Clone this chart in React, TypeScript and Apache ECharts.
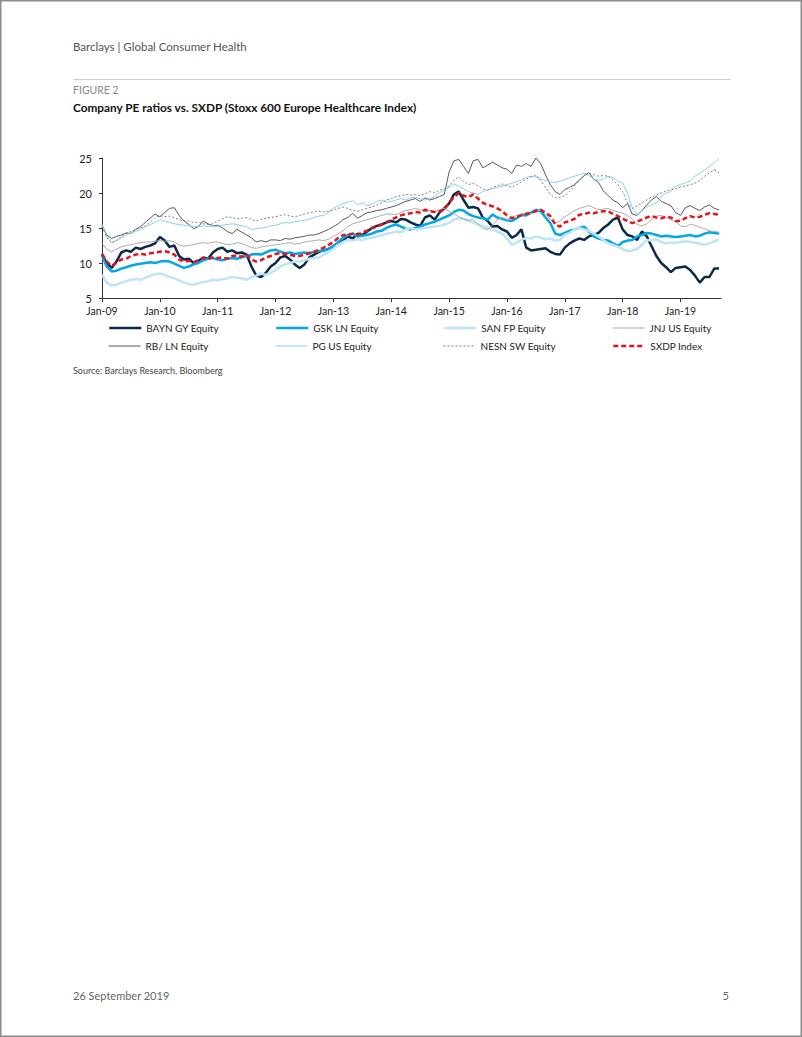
import React, { useEffect, useRef } from "react";
import * as echarts from "echarts";

const START_YEAR = 2009;
const YEAR_TICKS = [2009, 2010, 2011, 2012, 2013, 2014, 2015, 2016, 2017, 2018, 2019];
const Y_TICKS = [5, 10, 15, 20, 25];

const SERIES_NAMES = [
  "BAYN GY Equity",
  "GSK LN Equity",
  "SAN FP Equity",
  "JNJ US Equity",
  "RB/ LN Equity",
  "PG US Equity",
  "NESN SW Equity",
  "SXDP Index",
];

// Monthly PE values, Jan-09 .. Sep-19
const BAYN = [
  11.2, 10.0, 9.3, 10.2, 11.5, 11.8, 11.6, 12.2, 12.0, 12.3, 12.5, 12.8,
  13.7, 13.2, 12.3, 12.5, 11.0, 10.5, 10.6, 10.0, 10.3, 10.8, 10.6, 11.5,
  12.0, 12.2, 11.6, 11.8, 11.4, 11.5, 11.2, 9.5, 8.2, 8.0, 8.6, 9.5,
  10.0, 10.8, 11.0, 10.5, 9.8, 9.3, 9.8, 10.8, 11.2, 11.6, 11.8, 12.0,
  12.4, 12.8, 13.2, 13.8, 13.5, 14.2, 14.0, 14.5, 15.0, 15.3, 15.5, 15.8,
  16.0, 15.8, 16.3, 16.2, 15.8, 15.5, 15.3, 16.5, 16.8, 16.2, 17.2, 17.8,
  18.5, 19.8, 20.2, 19.0, 17.9, 18.0, 17.8, 16.5, 16.0, 15.2, 15.3, 14.8,
  14.5, 13.6, 14.0, 14.8, 12.2, 11.8, 11.9, 12.0, 12.1, 11.6, 11.3, 11.2,
  12.2, 12.8, 13.2, 13.5, 13.3, 13.8, 14.0, 14.3, 15.0, 15.5, 16.2, 16.5,
  14.8, 14.0, 13.8, 13.3, 14.5, 13.8, 12.4, 11.0, 10.0, 9.4, 8.7, 9.3,
  9.4, 9.5, 9.0, 8.2, 7.2, 8.0, 8.0, 9.2, 9.2,
];
const GSK = [
  11.0, 9.5, 8.8, 8.9, 9.2, 9.4, 9.6, 9.8, 9.9, 10.0, 10.1, 10.0,
  10.2, 10.3, 10.2, 9.9, 9.6, 9.3, 9.5, 9.8, 10.0, 10.4, 10.6, 10.7,
  10.5, 10.4, 10.6, 10.7, 10.6, 10.8, 11.0, 11.2, 11.3, 11.2, 11.5, 11.8,
  11.9, 11.6, 11.4, 11.5, 11.3, 11.4, 11.5, 11.4, 11.6, 11.7, 11.8, 12.0,
  12.4, 13.0, 13.6, 14.0, 14.2, 13.8, 13.9, 14.0, 14.2, 14.5, 14.6, 15.0,
  15.3, 15.5, 15.2, 14.9, 14.8, 15.0, 15.2, 15.5, 15.7, 15.9, 16.2, 16.5,
  16.8, 17.3, 17.6, 17.5, 17.0, 16.7, 16.5, 16.4, 16.2, 16.9, 16.5, 16.3,
  16.1, 16.0, 16.4, 16.9, 16.8, 17.2, 17.6, 17.4, 16.5, 15.7, 14.2, 14.0,
  14.3, 14.6, 14.8, 15.0, 15.2, 14.5, 13.8, 13.5, 13.3, 13.2, 12.8, 12.4,
  13.0, 13.2, 13.3, 13.8, 14.0, 14.3, 14.2, 14.0, 13.8, 13.9, 13.8, 13.7,
  13.8, 13.9, 14.0, 13.8, 13.9, 14.2, 14.4, 14.3, 14.2,
];
const SAN = [
  8.3, 7.2, 6.8, 6.9, 7.2, 7.4, 7.6, 7.7, 7.6, 7.9, 8.2, 8.4,
  8.5, 8.3, 8.0, 7.8, 7.5, 7.2, 7.0, 6.9, 7.1, 7.3, 7.4, 7.6,
  7.5, 7.7, 7.8, 8.0, 7.9, 7.8, 7.6, 8.0, 8.2, 8.5, 8.3, 8.6,
  9.0, 9.5, 9.8, 10.0, 10.2, 10.2, 10.4, 10.6, 10.7, 10.8, 11.2, 11.6,
  12.0, 12.6, 13.0, 13.3, 13.2, 13.4, 13.3, 13.5, 13.6, 13.8, 14.0, 14.2,
  14.3, 14.5, 14.4, 14.8, 15.0, 14.8, 14.9, 15.0, 15.1, 15.2, 15.3, 15.5,
  15.7, 16.2, 16.4, 16.3, 16.0, 15.8, 15.5, 15.3, 15.0, 14.8, 14.5, 14.2,
  13.5, 12.6, 12.9, 13.3, 13.6, 13.5, 13.8, 13.6, 13.4, 13.5, 13.2, 13.3,
  14.0, 14.3, 14.8, 15.0, 14.8, 14.6, 14.2, 13.8, 13.3, 12.8, 12.6, 12.3,
  12.0, 11.7, 11.8, 12.0, 12.6, 13.3, 13.2, 13.4, 13.0, 12.8, 12.9, 12.9,
  13.0, 13.1, 13.0, 12.9, 12.8, 12.6, 12.8, 13.1, 13.3,
];
const JNJ = [
  12.8, 12.0, 11.6, 12.0, 12.3, 12.5, 12.6, 12.8, 12.9, 13.0, 13.0, 13.1,
  13.2, 13.1, 13.2, 13.0, 12.6, 12.4, 12.5, 12.6, 12.8, 12.9, 12.8, 13.0,
  13.0, 12.8, 12.6, 12.7, 12.9, 12.8, 12.5, 12.2, 12.1, 12.3, 12.4, 12.5,
  12.6, 12.7, 12.8, 12.9, 12.7, 12.8, 13.0, 13.1, 13.2, 13.3, 13.2, 13.4,
  13.8, 14.2, 14.6, 15.2, 15.6, 15.8, 16.0, 16.2, 16.4, 16.6, 16.8, 17.0,
  17.0, 16.9, 17.2, 17.5, 17.6, 17.8, 17.6, 17.4, 17.5, 17.3, 17.6, 17.8,
  17.4, 17.0, 16.6, 16.3, 16.1, 16.2, 15.6, 14.9, 14.8, 15.4, 16.2, 16.5,
  16.2, 16.5, 16.8, 17.0, 17.2, 17.0, 17.4, 17.6, 17.0, 16.2, 15.7, 16.0,
  16.6, 17.0, 17.5, 17.8, 18.0, 18.2, 17.9, 17.6, 17.7, 17.8, 17.5, 17.3,
  17.1, 16.8, 16.3, 15.5, 15.3, 15.6, 16.2, 16.7, 16.8, 16.5, 16.2, 15.9,
  15.3, 15.2, 15.5, 15.4, 15.1, 14.9, 14.6, 14.5, 14.4,
];
const RB = [
  15.4, 14.0, 13.5, 13.8, 14.0, 14.3, 14.2, 14.8, 15.2, 15.8, 16.4, 17.0,
  16.6, 17.2, 17.8, 17.9, 16.8, 16.0, 15.5, 14.9, 15.2, 16.0, 15.6, 15.3,
  15.4, 15.0, 14.5, 14.2, 14.8, 14.4, 14.0, 13.6, 13.0, 13.2, 13.0, 13.3,
  13.3, 13.2, 13.5, 13.4, 13.6, 13.7, 13.8, 14.0, 14.0, 14.2, 14.5, 14.8,
  15.2, 15.6, 16.2, 16.5, 17.1, 16.4, 16.8, 17.2, 17.3, 17.5, 17.6, 17.8,
  18.0, 18.2, 18.5, 18.8, 19.0, 19.2, 18.8, 19.3, 19.0, 19.2, 19.5, 19.8,
  23.0, 24.6, 24.8, 23.8, 22.8, 24.6, 24.8, 23.6, 24.0, 24.4, 24.0, 23.6,
  23.4, 22.8, 24.0, 23.8, 24.2, 23.8, 25.0, 24.2, 22.6, 21.2, 20.2, 19.8,
  20.5, 20.8, 21.2, 21.8, 22.5, 22.9, 22.0, 21.5, 20.3, 19.6, 19.0, 18.6,
  17.9, 18.5, 17.0, 16.8, 17.5, 18.3, 19.0, 19.5, 18.8, 18.5, 18.2, 17.2,
  16.8, 17.9, 18.2, 17.8, 17.5, 18.0, 18.3, 17.8, 17.6,
];
const PG = [
  15.5, 13.8, 12.9, 13.2, 13.6, 14.0, 14.3, 14.5, 14.8, 15.2, 15.5, 15.8,
  16.2, 16.0, 15.8, 15.6, 15.5, 15.4, 15.3, 15.2, 15.2, 15.3, 15.2, 15.3,
  15.2, 15.4, 15.5, 15.6, 15.5, 15.3, 15.2, 14.8, 14.9, 15.0, 15.1, 15.3,
  15.4, 15.6, 15.8, 15.7, 15.9, 16.0, 16.1, 16.3, 16.5, 16.7, 16.8, 17.2,
  17.8, 18.2, 18.5, 18.7, 18.9, 18.3, 18.6, 18.2, 18.4, 18.8, 19.0, 18.7,
  18.8, 19.0, 19.2, 19.0, 19.3, 19.4, 19.2, 19.0, 19.2, 19.5, 20.0, 20.5,
  20.8, 21.3, 21.0, 20.6, 20.2, 20.0, 19.8, 20.2, 20.4, 20.6, 20.8, 21.0,
  21.2, 21.4, 21.6, 21.9, 22.2, 22.4, 22.3, 22.0, 21.8, 21.6, 21.5, 21.7,
  21.9, 22.2, 22.4, 22.6, 22.8, 22.5, 22.0, 21.8, 22.0, 22.4, 22.2, 21.7,
  21.4, 20.0, 17.9, 16.9, 17.5, 18.0, 18.3, 18.6, 19.5, 20.0, 20.2, 21.0,
  21.2, 21.5, 21.7, 22.4, 22.8, 23.3, 23.8, 24.3, 24.9,
];
const NESN = [
  15.2, 13.6, 12.9, 13.2, 13.8, 14.2, 14.5, 14.8, 15.0, 15.3, 15.8, 16.5,
  16.8, 16.6, 16.7, 16.5, 16.2, 16.0, 16.0, 15.8, 15.8, 15.6, 15.5, 15.6,
  16.0, 16.3, 16.6, 16.5, 16.3, 16.4, 16.5, 16.2, 16.0, 16.2, 16.4, 16.5,
  16.6, 16.8, 16.9, 16.7, 16.6, 16.8, 17.0, 17.2, 17.3, 17.4, 17.3, 17.4,
  17.6, 17.8, 18.0, 17.8, 17.5, 17.4, 17.6, 17.8, 18.0, 18.3, 18.6, 19.0,
  19.2, 19.5, 19.6, 19.8, 19.7, 19.8, 19.6, 19.9, 20.2, 20.0, 20.4, 20.6,
  21.0, 21.8, 22.3, 21.7, 21.2, 21.4, 21.0, 20.6, 20.4, 20.8, 21.0, 21.3,
  21.0, 20.8, 21.2, 21.6, 22.0, 22.3, 22.6, 21.8, 20.8, 19.8, 19.3, 19.4,
  19.6, 20.2, 21.0, 21.8, 22.5, 22.8, 22.6, 22.4, 22.5, 22.4, 21.8, 21.2,
  20.2, 18.6, 17.8, 18.2, 18.6, 19.0, 19.4, 19.7, 20.0, 20.3, 20.5, 20.6,
  20.9, 21.0, 21.2, 21.4, 21.8, 22.4, 22.9, 23.3, 22.9,
];
const SXDP = [
  11.3, 10.2, 9.6, 10.0, 10.5, 10.6, 11.0, 11.2, 11.3, 11.2, 11.4, 11.5,
  11.6, 11.7, 11.5, 11.2, 10.5, 10.2, 10.3, 10.1, 10.4, 10.7, 10.6, 10.8,
  10.7, 10.8, 10.6, 11.0, 11.1, 10.9, 11.2, 10.5, 10.2, 10.4, 10.8, 11.0,
  11.3, 11.4, 11.3, 11.2, 11.0, 11.0, 11.2, 11.4, 11.6, 11.9, 12.2, 12.6,
  13.0, 13.6, 14.0, 14.0, 14.2, 14.0, 14.4, 14.6, 15.0, 15.2, 15.5, 15.8,
  16.2, 16.5, 16.8, 17.0, 17.1, 17.3, 17.2, 17.6, 17.4, 17.3, 17.4, 17.6,
  18.6, 19.4, 20.0, 19.6, 19.4, 19.8, 19.2, 18.6, 18.3, 18.1, 17.8, 17.4,
  16.8, 16.4, 16.6, 16.8, 17.0, 17.2, 17.4, 17.6, 17.2, 16.7, 15.5, 15.2,
  15.8, 16.0, 16.3, 16.9, 17.0, 17.2, 17.1, 17.3, 17.4, 17.4, 17.0, 16.7,
  16.3, 16.0, 15.7, 15.9, 16.2, 16.5, 16.7, 16.5, 16.4, 16.6, 16.5, 16.0,
  16.0, 16.4, 16.7, 16.5, 16.6, 16.9, 17.1, 17.0, 16.9,
];

const SERIES_VALUES = [BAYN, GSK, SAN, JNJ, RB, PG, NESN, SXDP];

const FONT = "Lato, 'Open Sans', sans-serif";

const STYLES = [
  { color: "#0b2a4a", width: 2.5, type: "solid" },
  { color: "#00a8e6", width: 2.5, type: "solid" },
  { color: "#bfe4f6", width: 2.5, type: "solid" },
  { color: "#ababab", width: 1, type: "solid" },
  { color: "#585858", width: 1, type: "solid" },
  { color: "#86d2f1", width: 1, type: "solid" },
  { color: "#808080", width: 1, type: [2, 2] },
  { color: "#e3141b", width: 2.5, type: [5, 3] },
];

const LEGEND_POS = [
  [108, 323], [275, 323], [443, 323], [612, 323],
  [108, 341], [275, 341], [443, 341], [612, 341],
];

export default function App() {
  const ref = useRef<HTMLDivElement>(null);

  useEffect(() => {
    if (!ref.current) return;
    const chart = echarts.init(ref.current, null, { renderer: "svg" });

    const series = SERIES_NAMES.map((name, k) => ({
      name,
      type: "line",
      symbol: "none",
      showSymbol: false,
      data: SERIES_VALUES[k].map((v, i) => [START_YEAR + i / 12, v]),
      lineStyle: { color: STYLES[k].color, width: STYLES[k].width, type: STYLES[k].type },
      itemStyle: { color: STYLES[k].color },
      z: 2 + k,
    }));

    const legends = SERIES_NAMES.map((name, j) => ({
      show: true,
      left: LEGEND_POS[j][0],
      top: LEGEND_POS[j][1],
      padding: 0,
      itemWidth: 32,
      itemHeight: 12,
      data: [name],
      selectedMode: false,
      itemStyle: { opacity: 0 },
      lineStyle: { width: STYLES[j].width, type: STYLES[j].type, color: STYLES[j].color },
      textStyle: { fontSize: 10, color: "#222", fontFamily: FONT },
    }));

    chart.setOption({
      animation: false,
      backgroundColor: "#fff",
      textStyle: { fontFamily: FONT },
      grid: { left: 102, top: 158, width: 619, height: 140, containLabel: false },
      xAxis: {
        type: "value",
        min: 2009,
        max: 2019.7,
        interval: 1,
        axisLine: { show: true, lineStyle: { color: "#333", width: 1 } },
        axisTick: { show: true, length: 4, lineStyle: { color: "#333" }, customValues: YEAR_TICKS },
        axisLabel: {
          customValues: YEAR_TICKS,
          formatter: (v: number) => "Jan-" + String(Math.round(v)).slice(2),
          color: "#222",
          fontSize: 10.5,
          fontFamily: FONT,
          margin: 7,
        },
        splitLine: { show: false },
      },
      yAxis: {
        type: "value",
        min: 5,
        max: 25,
        interval: 5,
        axisLine: { show: true, lineStyle: { color: "#333", width: 1 } },
        axisTick: { show: true, length: 3, lineStyle: { color: "#333" } },
        axisLabel: {
          color: "#222",
          fontSize: 11,
          fontFamily: FONT,
          margin: 10,
          formatter: (v: number) => (Y_TICKS.includes(v) ? String(v) : ""),
        },
        splitLine: { show: false },
      },
      legend: legends,
      series,
      graphic: [
        {
          type: "rect",
          shape: { x: 0.75, y: 0.75, width: 800.5, height: 1035.5 },
          style: { fill: "none", stroke: "#8c8c8c", lineWidth: 1.5 },
          silent: true,
        },
        {
          type: "text",
          x: 73,
          y: 46,
          style: {
            text: "Barclays | Global Consumer Health",
            fontSize: 11.5,
            fontFamily: FONT,
            fill: "#555",
            verticalAlign: "middle",
            align: "left",
          },
        },
        {
          type: "line",
          shape: { x1: 73, y1: 79.5, x2: 731, y2: 79.5 },
          style: { stroke: "#d0d0d0", lineWidth: 1 },
        },
        {
          type: "text",
          x: 73,
          y: 90,
          style: {
            text: "FIGURE 2",
            fontSize: 10.5,
            fontFamily: FONT,
            fill: "#8a8a8a",
            verticalAlign: "middle",
            align: "left",
          },
        },
        {
          type: "text",
          x: 73,
          y: 107,
          style: {
            text: "Company PE ratios vs. SXDP (Stoxx 600 Europe Healthcare Index)",
            fontSize: 11.8,
            fontWeight: "bold",
            fontFamily: FONT,
            fill: "#111",
            verticalAlign: "middle",
            align: "left",
          },
        },
        {
          type: "text",
          x: 73,
          y: 370,
          style: {
            text: "Source: Barclays Research, Bloomberg",
            fontSize: 9,
            fontFamily: FONT,
            fill: "#444",
            verticalAlign: "middle",
            align: "left",
          },
        },
        {
          type: "text",
          x: 73,
          y: 995,
          style: {
            text: "26 September 2019",
            fontSize: 11,
            fontFamily: FONT,
            fill: "#666",
            verticalAlign: "middle",
            align: "left",
          },
        },
        {
          type: "text",
          x: 729,
          y: 995,
          style: {
            text: "5",
            fontSize: 11,
            fontFamily: FONT,
            fill: "#666",
            verticalAlign: "middle",
            align: "right",
          },
        },
      ],
    });

    return () => chart.dispose();
  }, []);

  return (
    <div
      ref={ref}
      style={{ position: "absolute", left: 0, top: 0, width: 802, height: 1037, background: "#fff" }}
    />
  );
}
